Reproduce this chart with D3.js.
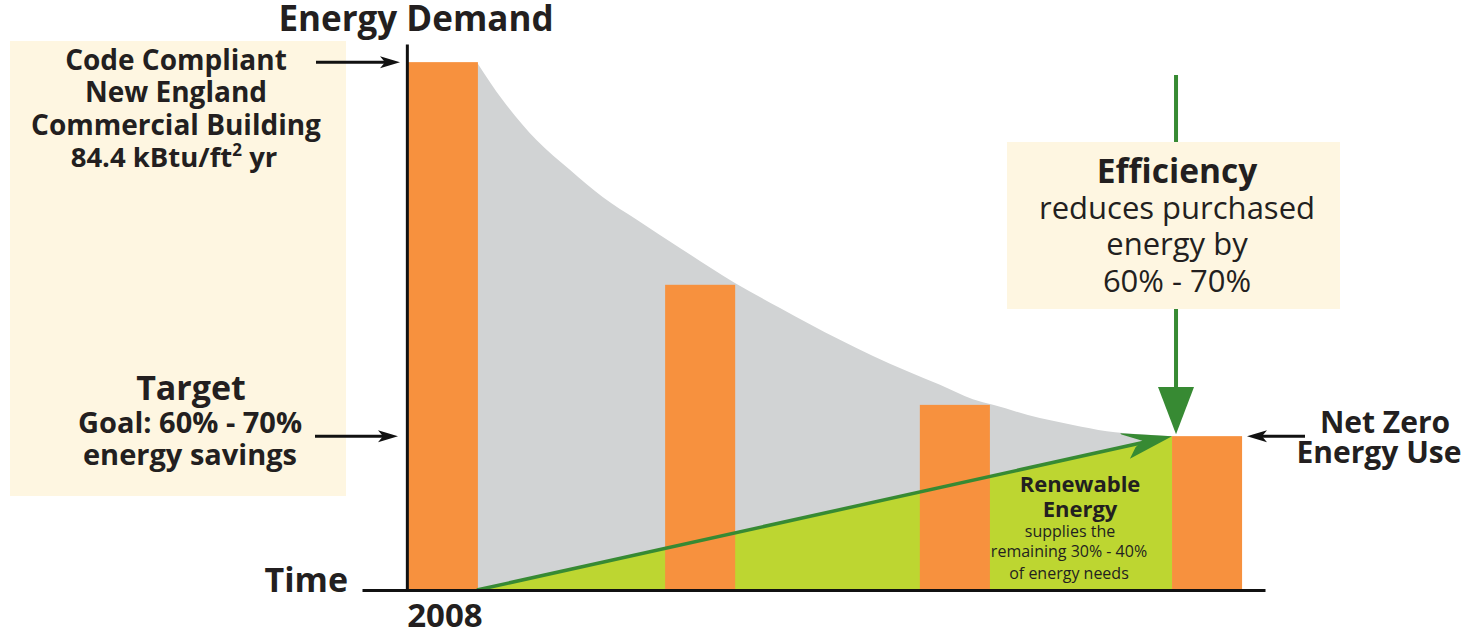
<!DOCTYPE html>
<html>
<head>
<meta charset="utf-8">
<script src="https://cdn.jsdelivr.net/npm/d3@7"></script>
<style>
  body { margin: 0; background: #fff; }
  svg { display: block; font-family: "Open Sans", sans-serif; }
</style>
</head>
<body>
<div id="chartDiv"></div>
<script>
// bar positions (time steps) and energy demand in kBtu/ft2 yr
var barTime = [0, 1.01, 2.01, 3];
var barDemand = [84.4, 48.8, 29.6, 24.6];

// demand curve
var curveTime = [0.271, 0.373, 0.506, 0.636, 0.766, 0.899, 1.068, 1.284, 1.461, 1.696,
	1.826, 1.959, 2.089, 2.218, 2.297, 2.481, 2.611, 2.744, 2.874, 3.0];
var curveDemand = [84.4, 78.3, 71.9, 67.2, 62.8, 59.2, 54.7, 49.1, 45.1, 40.0,
	37.4, 35.0, 32.8, 30.5, 29.6, 27.5, 26.4, 25.4, 24.9, 24.6];

// renewable supply line
var renewTime = [0.271, 3.0];
var renewSupply = [0, 24.6];

var W = 1468, H = 630;
var barW = 0.275;
var ink = '#231f20';
var green = '#378a33';
var cream = '#fef6e1';

var svg = d3.select('#chartDiv').append('svg')
	.attr('width', W).attr('height', H);

var x = d3.scaleLinear().domain([-0.18, 3.365]).range([362, 1265]);
var y = d3.scaleLinear().domain([0, 87.3]).range([590, 44]);

var curvePts = curveTime.map(function(t, i) { return [t, curveDemand[i]]; });
var renewPts = renewTime.map(function(t, i) { return [t, renewSupply[i]]; });

// left cream panel
svg.append('rect').attr('x', 10).attr('y', 41).attr('width', 336).attr('height', 455)
	.attr('fill', cream);

// gray demand area
svg.append('path')
	.datum(curvePts)
	.attr('fill', '#d1d3d4')
	.attr('d', d3.area()
		.x(function(d) { return x(d[0]); })
		.y0(y(0))
		.y1(function(d) { return y(d[1]); })
		.curve(d3.curveMonotoneX));

// renewable area
svg.append('path')
	.datum(renewPts)
	.attr('fill', '#bdd631')
	.attr('d', d3.area()
		.x(function(d) { return x(d[0]); })
		.y0(y(0))
		.y1(function(d) { return y(d[1]); }));

// bars
svg.selectAll('.bar')
	.data(barTime)
	.enter().append('rect')
	.attr('class', 'bar')
	.attr('x', function(d) { return x(d); })
	.attr('width', x(barW) - x(0))
	.attr('y', function(d, i) { return y(barDemand[i]); })
	.attr('height', function(d, i) { return y(0) - y(barDemand[i]); })
	.attr('fill', '#f7913e');

// renewable line with arrow head
var p0 = [x(renewTime[0]), y(renewSupply[0])];
var p1 = [x(renewTime[1]), y(renewSupply[1])];
var ang = Math.atan2(p1[1] - p0[1], p1[0] - p0[0]) * 180 / Math.PI;
svg.append('line')
	.attr('x1', p0[0]).attr('y1', p0[1])
	.attr('x2', p1[0] - 20).attr('y2', p1[1] + 4.4)
	.attr('stroke', green).attr('stroke-width', 3.5);
svg.append('path')
	.attr('transform', 'translate(' + p1[0] + ',' + p1[1] + ') rotate(' + ang + ')')
	.attr('d', 'M0,0 L-50,-14 L-49,-12.5 L-30,-2 L-38,3 L-46,13 Z')
	.attr('fill', green);

// axes
svg.append('g')
	.attr('transform', 'translate(0,' + y(0) + ')')
	.call(d3.axisBottom(x).tickValues([]).tickSizeOuter(0))
	.select('.domain').attr('stroke', '#111').attr('stroke-width', 3);
svg.append('g')
	.attr('transform', 'translate(' + (x(0) - 1) + ',0)')
	.call(d3.axisLeft(y).tickValues([]).tickSizeOuter(0))
	.select('.domain').attr('stroke', '#111').attr('stroke-width', 3);

// efficiency arrow
var ex = x(3) + 4;
svg.append('line')
	.attr('x1', ex).attr('y1', 75).attr('x2', ex).attr('y2', 390)
	.attr('stroke', green).attr('stroke-width', 4);
svg.append('path')
	.attr('d', 'M' + (ex - 18) + ',387 L' + (ex + 18) + ',387 L' + ex + ',' + (y(barDemand[3]) - 2) + ' Z')
	.attr('fill', green);

svg.append('rect').attr('x', 1007).attr('y', 142).attr('width', 333).attr('height', 167)
	.attr('fill', cream);

// black pointer arrows
function pointer(x1, x2, yy) {
	var dir = x2 > x1 ? 1 : -1;
	svg.append('line')
		.attr('x1', x1).attr('y1', yy).attr('x2', x2 - dir * 10).attr('y2', yy)
		.attr('stroke', '#111').attr('stroke-width', 3);
	svg.append('path')
		.attr('d', 'M' + x2 + ',' + yy + ' L' + (x2 - dir * 20) + ',' + (yy - 6) +
			' L' + (x2 - dir * 15) + ',' + yy + ' L' + (x2 - dir * 20) + ',' + (yy + 6) + ' Z')
		.attr('fill', '#111');
}
pointer(316, 400, y(barDemand[0]));
pointer(315, 398, y(barDemand[3]));
pointer(1305, 1247, y(barDemand[3]));

// text
function label(tx, ty, str, size, bold, anchor) {
	return svg.append('text')
		.attr('x', tx).attr('y', ty)
		.attr('text-anchor', anchor || 'middle')
		.attr('font-size', size)
		.attr('font-weight', bold ? 700 : 400)
		.attr('fill', ink)
		.text(str);
}

label(416, 31, 'Energy Demand', 35, true);
label(348, 592, 'Time', 34, true, 'end');
label(445, 627, '2008', 33, true);

label(176, 70, 'Code Compliant', 28, true);
label(176, 102, 'New England', 28, true);
label(176, 135, 'Commercial Building', 28, true);
var t = label(174, 167, '84.4 kBtu/ft', 27.5, true);
t.append('tspan').attr('font-size', 17).attr('dy', -11).text('2');
t.append('tspan').attr('dy', 11).text(' yr');

label(191, 400, 'Target', 34, true);
label(190, 433, 'Goal: 60% - 70%', 29, true);
label(190, 465, 'energy savings', 29, true);

label(1177, 183, 'Efficiency', 33.5, true);
label(1177, 219, 'reduces purchased', 31, false);
label(1177, 255, 'energy by', 31, false);
label(1177, 292, '60% - 70%', 31, false);

label(1385, 433, 'Net Zero', 30, true);
label(1379, 463, 'Energy Use', 30, true);

label(1080, 492, 'Renewable', 22, true);
label(1080, 517, 'Energy', 22, true);
label(1070, 537, 'supplies the', 16, false);
label(1069, 557, 'remaining 30% - 40%', 16, false);
label(1069, 579, 'of energy needs', 16, false);
</script>
</body>
</html>
